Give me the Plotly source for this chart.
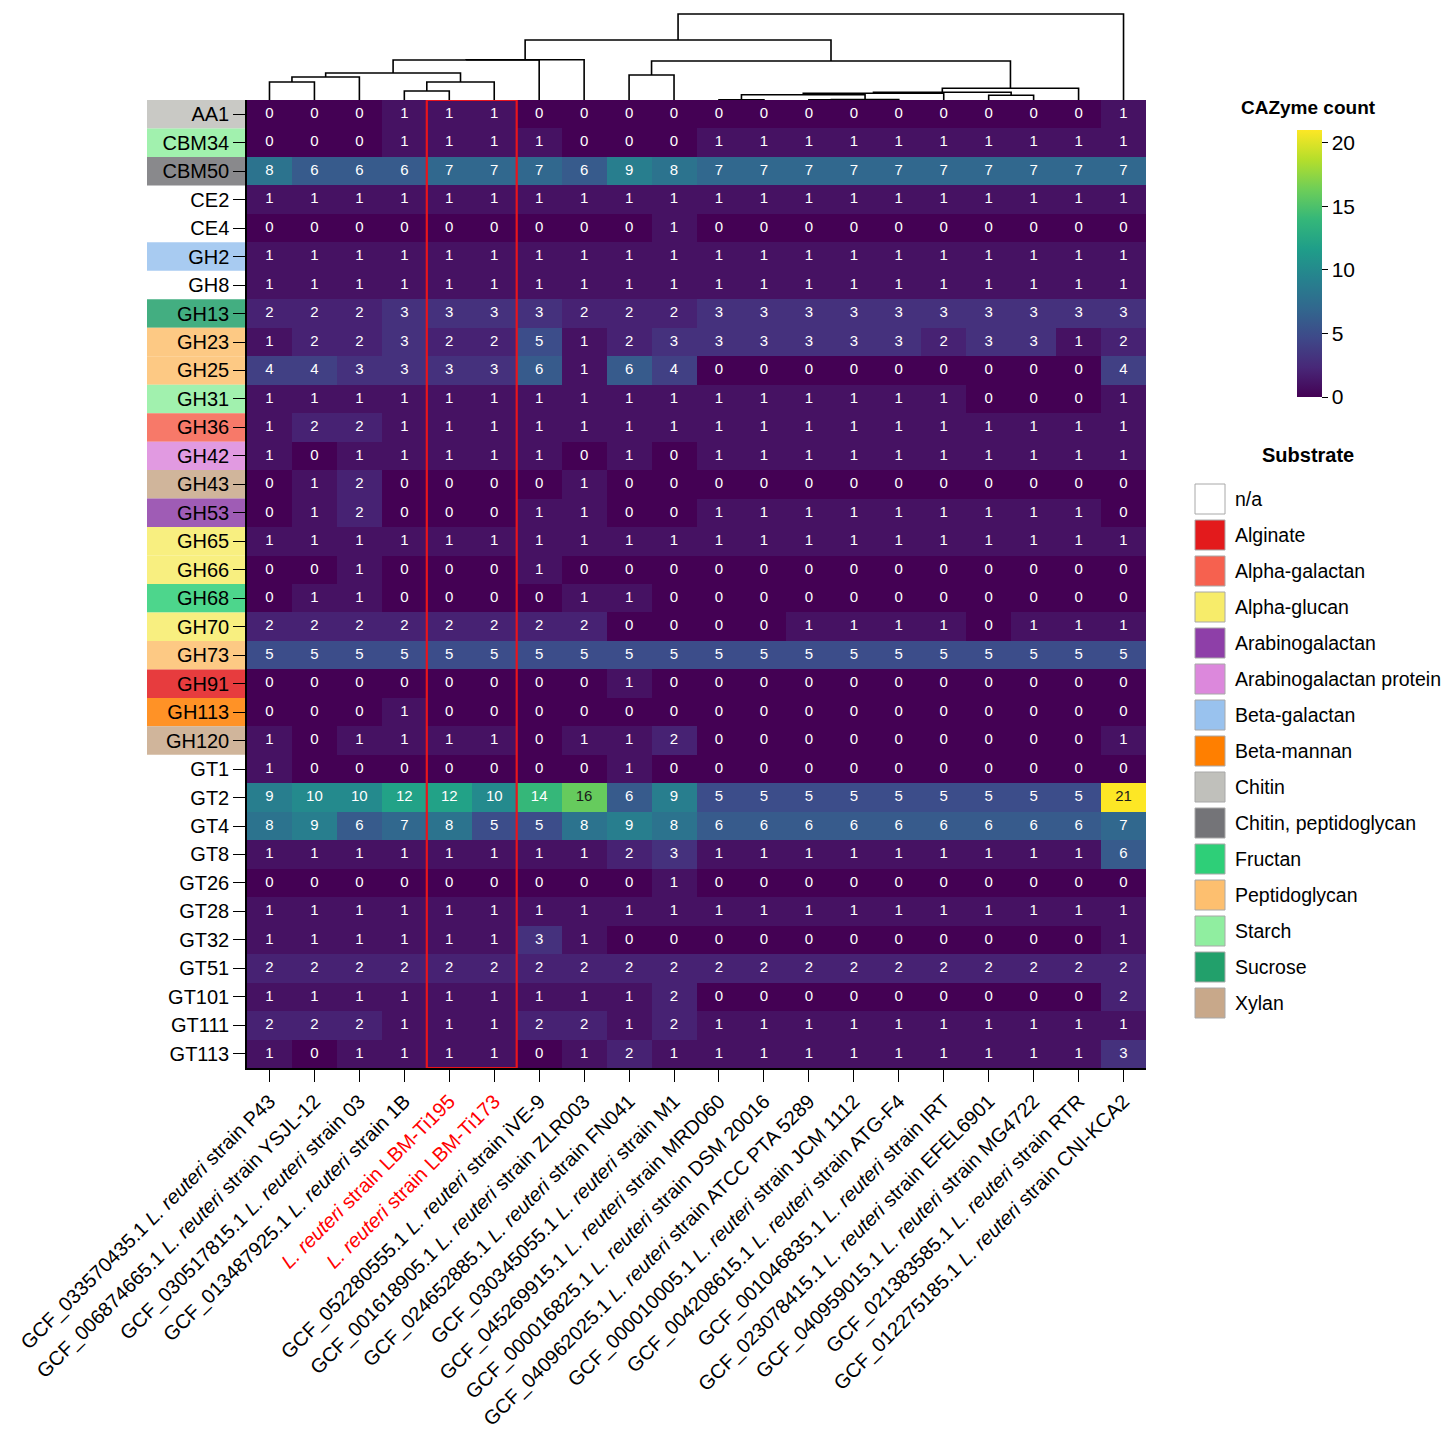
import plotly.graph_objects as go

# CAZyme families (rows, top to bottom)
families = ["AA1", "CBM34", "CBM50", "CE2", "CE4", "GH2", "GH8", "GH13", "GH23", "GH25",
            "GH31", "GH36", "GH42", "GH43", "GH53", "GH65", "GH66", "GH68", "GH70", "GH73",
            "GH91", "GH113", "GH120", "GT1", "GT2", "GT4", "GT8", "GT26", "GT28", "GT32",
            "GT51", "GT101", "GT111", "GT113"]

family_substrate = ["Chitin", "Starch", "Chitin, peptidoglycan", "n/a", "n/a", "Beta-galactan", "n/a",
                    "Sucrose", "Peptidoglycan", "Peptidoglycan", "Starch", "Alpha-galactan",
                    "Arabinogalactan protein", "Xylan", "Arabinogalactan", "Alpha-glucan", "Alpha-glucan",
                    "Fructan", "Alpha-glucan", "Peptidoglycan", "Alginate", "Beta-mannan", "Xylan",
                    "n/a", "n/a", "n/a", "n/a", "n/a", "n/a", "n/a", "n/a", "n/a", "n/a", "n/a"]

# genomes (columns, left to right, in dendrogram order)
accessions = ["GCF_033570435.1", "GCF_006874665.1", "GCF_030517815.1", "GCF_013487925.1", "", "",
              "GCF_052280555.1", "GCF_001618905.1", "GCF_024652885.1", "GCF_030345055.1",
              "GCF_045269915.1", "GCF_000016825.1", "GCF_040962025.1", "GCF_000010005.1",
              "GCF_004208615.1", "GCF_001046835.1", "GCF_023078415.1", "GCF_040959015.1",
              "GCF_021383585.1", "GCF_012275185.1"]
strains = ["P43", "YSJL-12", "03", "1B", "LBM-Ti195", "LBM-Ti173", "iVE-9", "ZLR003", "FN041", "M1",
           "MRD060", "DSM 20016", "ATCC PTA 5289", "JCM 1112", "ATG-F4", "IRT", "EFEL6901", "MG4722",
           "RTR", "CNI-KCA2"]
highlighted = ["LBM-Ti195", "LBM-Ti173"]

counts = [
    [0, 0, 0, 1, 1, 1, 0, 0, 0, 0, 0, 0, 0, 0, 0, 0, 0, 0, 0, 1],
    [0, 0, 0, 1, 1, 1, 1, 0, 0, 0, 1, 1, 1, 1, 1, 1, 1, 1, 1, 1],
    [8, 6, 6, 6, 7, 7, 7, 6, 9, 8, 7, 7, 7, 7, 7, 7, 7, 7, 7, 7],
    [1, 1, 1, 1, 1, 1, 1, 1, 1, 1, 1, 1, 1, 1, 1, 1, 1, 1, 1, 1],
    [0, 0, 0, 0, 0, 0, 0, 0, 0, 1, 0, 0, 0, 0, 0, 0, 0, 0, 0, 0],
    [1, 1, 1, 1, 1, 1, 1, 1, 1, 1, 1, 1, 1, 1, 1, 1, 1, 1, 1, 1],
    [1, 1, 1, 1, 1, 1, 1, 1, 1, 1, 1, 1, 1, 1, 1, 1, 1, 1, 1, 1],
    [2, 2, 2, 3, 3, 3, 3, 2, 2, 2, 3, 3, 3, 3, 3, 3, 3, 3, 3, 3],
    [1, 2, 2, 3, 2, 2, 5, 1, 2, 3, 3, 3, 3, 3, 3, 2, 3, 3, 1, 2],
    [4, 4, 3, 3, 3, 3, 6, 1, 6, 4, 0, 0, 0, 0, 0, 0, 0, 0, 0, 4],
    [1, 1, 1, 1, 1, 1, 1, 1, 1, 1, 1, 1, 1, 1, 1, 1, 0, 0, 0, 1],
    [1, 2, 2, 1, 1, 1, 1, 1, 1, 1, 1, 1, 1, 1, 1, 1, 1, 1, 1, 1],
    [1, 0, 1, 1, 1, 1, 1, 0, 1, 0, 1, 1, 1, 1, 1, 1, 1, 1, 1, 1],
    [0, 1, 2, 0, 0, 0, 0, 1, 0, 0, 0, 0, 0, 0, 0, 0, 0, 0, 0, 0],
    [0, 1, 2, 0, 0, 0, 1, 1, 0, 0, 1, 1, 1, 1, 1, 1, 1, 1, 1, 0],
    [1, 1, 1, 1, 1, 1, 1, 1, 1, 1, 1, 1, 1, 1, 1, 1, 1, 1, 1, 1],
    [0, 0, 1, 0, 0, 0, 1, 0, 0, 0, 0, 0, 0, 0, 0, 0, 0, 0, 0, 0],
    [0, 1, 1, 0, 0, 0, 0, 1, 1, 0, 0, 0, 0, 0, 0, 0, 0, 0, 0, 0],
    [2, 2, 2, 2, 2, 2, 2, 2, 0, 0, 0, 0, 1, 1, 1, 1, 0, 1, 1, 1],
    [5, 5, 5, 5, 5, 5, 5, 5, 5, 5, 5, 5, 5, 5, 5, 5, 5, 5, 5, 5],
    [0, 0, 0, 0, 0, 0, 0, 0, 1, 0, 0, 0, 0, 0, 0, 0, 0, 0, 0, 0],
    [0, 0, 0, 1, 0, 0, 0, 0, 0, 0, 0, 0, 0, 0, 0, 0, 0, 0, 0, 0],
    [1, 0, 1, 1, 1, 1, 0, 1, 1, 2, 0, 0, 0, 0, 0, 0, 0, 0, 0, 1],
    [1, 0, 0, 0, 0, 0, 0, 0, 1, 0, 0, 0, 0, 0, 0, 0, 0, 0, 0, 0],
    [9, 10, 10, 12, 12, 10, 14, 16, 6, 9, 5, 5, 5, 5, 5, 5, 5, 5, 5, 21],
    [8, 9, 6, 7, 8, 5, 5, 8, 9, 8, 6, 6, 6, 6, 6, 6, 6, 6, 6, 7],
    [1, 1, 1, 1, 1, 1, 1, 1, 2, 3, 1, 1, 1, 1, 1, 1, 1, 1, 1, 6],
    [0, 0, 0, 0, 0, 0, 0, 0, 0, 1, 0, 0, 0, 0, 0, 0, 0, 0, 0, 0],
    [1, 1, 1, 1, 1, 1, 1, 1, 1, 1, 1, 1, 1, 1, 1, 1, 1, 1, 1, 1],
    [1, 1, 1, 1, 1, 1, 3, 1, 0, 0, 0, 0, 0, 0, 0, 0, 0, 0, 0, 1],
    [2, 2, 2, 2, 2, 2, 2, 2, 2, 2, 2, 2, 2, 2, 2, 2, 2, 2, 2, 2],
    [1, 1, 1, 1, 1, 1, 1, 1, 1, 2, 0, 0, 0, 0, 0, 0, 0, 0, 0, 2],
    [2, 2, 2, 1, 1, 1, 2, 2, 1, 2, 1, 1, 1, 1, 1, 1, 1, 1, 1, 1],
    [1, 0, 1, 1, 1, 1, 0, 1, 2, 1, 1, 1, 1, 1, 1, 1, 1, 1, 1, 3],
]

# column dendrogram: (left node, right node, height); leaves are 0..19, merge k becomes node 20+k
dendro_links = [(0, 1, 18), (20, 2, 23), (3, 4, 9), (22, 5, 18), (21, 23, 27), (24, 6, 40),
                (25, 7, 40.3), (8, 9, 25), (10, 11, 0.2), (12, 13, 0.2), (29, 14, 0.4),
                (28, 30, 5.3), (31, 15, 6.7), (16, 17, 4.7), (32, 33, 7.7), (34, 18, 11.7),
                (27, 35, 39), (26, 36, 60), (37, 19, 86)]

substrates = ["n/a", "Alginate", "Alpha-galactan", "Alpha-glucan", "Arabinogalactan",
              "Arabinogalactan protein", "Beta-galactan", "Beta-mannan", "Chitin",
              "Chitin, peptidoglycan", "Fructan", "Peptidoglycan", "Starch", "Sucrose", "Xylan"]
substrate_colors = ["#ffffff", "#e31a1c", "#f6614f", "#f7ec6a", "#8e3fa8", "#dc88dc", "#99c2ee",
                    "#ff7f00", "#c0c0bb", "#747478", "#2ecf78", "#fdbf6f", "#90eea0", "#22a06b",
                    "#c8a88a"]
color_of = dict(zip(substrates, substrate_colors))

FONT = "Arial, Liberation Sans, sans-serif"
# the page body keeps its 8px margin, so the figure is a bit smaller than the window
PAD = 8
W, H = 1449 - 2 * PAD, 1443 - 2 * PAD

def px_x(p):
    return (p - PAD) / W

def px_y(p):
    return 1 - (p - PAD) / H

n_rows = len(families)
n_cols = len(strains)

# x tick labels
xlabels = []
for a, s in zip(accessions, strains):
    if s in highlighted:
        xlabels.append("<span style='color:red'><i>L. reuteri</i> strain %s</span>" % s)
    else:
        xlabels.append("%s <i>L. reuteri</i> strain %s" % (a, s))

fig = go.Figure()

fig.add_trace(go.Heatmap(
    z=counts,
    x=list(range(n_cols)),
    y=list(range(n_rows)),
    colorscale="Viridis",
    zmin=0, zmax=21,
    hoverinfo="skip",
    colorbar=dict(
        x=px_x(1297), xanchor="left", xpad=0,
        y=px_y(263.5), yanchor="middle", ypad=0,
        len=267, lenmode="pixels",
        thickness=25, thicknessmode="pixels",
        outlinewidth=0,
        ticks="outside", ticklen=6, tickwidth=1.2, tickcolor="black",
        tickvals=[0, 5, 10, 15, 20],
        tickfont=dict(size=21, family=FONT, color="black"),
    ),
))

# cell numbers
tx, ty, tt, tc = [], [], [], []
for i, row in enumerate(counts):
    for j, v in enumerate(row):
        tx.append(j)
        ty.append(i)
        tt.append(str(v))
        tc.append("#1a1a1a" if v >= 15 else "white")
fig.add_trace(go.Scatter(
    x=tx, y=ty, text=tt, mode="text",
    textfont=dict(size=15, color=tc, family=FONT),
    hoverinfo="skip", showlegend=False,
))

# dendrogram
pos = {k: (float(k), 0.0) for k in range(n_cols)}
lx, ly = [], []
for k, (a, b, h) in enumerate(dendro_links):
    xa, ha = pos[a]
    xb, hb = pos[b]
    lx += [xa, xa, xb, xb, None]
    ly += [ha, h, h, hb, None]
    pos[n_cols + k] = ((xa + xb) / 2, h)
fig.add_trace(go.Scatter(
    x=lx, y=ly, mode="lines", yaxis="y2",
    line=dict(color="black", width=1.6),
    hoverinfo="skip", showlegend=False,
))

shapes = []
# substrate boxes behind the row labels
for i, s in enumerate(family_substrate):
    if s == "n/a":
        continue
    shapes.append(dict(
        type="rect", xref="paper", yref="y", layer="below",
        x0=px_x(147), x1=px_x(247), y0=i - 0.5, y1=i + 0.5,
        fillcolor=color_of[s], opacity=0.85, line=dict(width=0),
    ))

# highlight box around the two new strains
hl = [j for j, s in enumerate(strains) if s in highlighted]
shapes.append(dict(
    type="rect", xref="x", yref="y", layer="above",
    x0=min(hl) - 0.5, x1=max(hl) + 0.5, y0=-0.5, y1=n_rows - 0.5,
    line=dict(color="#e8141c", width=2.2), fillcolor="rgba(0,0,0,0)",
))

# substrate legend
annotations = []
for k, s in enumerate(substrates):
    yc = 499 + 36 * k
    shapes.append(dict(
        type="rect", xref="paper", yref="paper",
        x0=px_x(1195), x1=px_x(1225), y0=px_y(yc + 15), y1=px_y(yc - 15),
        fillcolor=color_of[s], line=dict(color="#a8a8a8", width=1),
    ))
    annotations.append(dict(
        x=px_x(1233), y=px_y(yc), xref="paper", yref="paper",
        text=s, showarrow=False, xanchor="left", yanchor="middle",
        font=dict(size=19.5, family=FONT, color="black"),
    ))

annotations.append(dict(
    x=px_x(1308), y=px_y(108), xref="paper", yref="paper",
    text="<b>CAZyme count</b>", showarrow=False, xanchor="center", yanchor="middle",
    font=dict(size=19, family=FONT, color="black"),
))
annotations.append(dict(
    x=px_x(1308), y=px_y(455), xref="paper", yref="paper",
    text="<b>Substrate</b>", showarrow=False, xanchor="center", yanchor="middle",
    font=dict(size=20, family=FONT, color="black"),
))

fig.update_layout(
    width=W, height=H,
    margin=dict(l=0, r=0, t=0, b=0, autoexpand=False),
    paper_bgcolor="white",
    plot_bgcolor="white",
    font=dict(family=FONT, color="black"),
    showlegend=False,
    shapes=shapes,
    annotations=annotations,
    xaxis=dict(
        domain=[px_x(247), px_x(1146)],
        range=[-0.5, n_cols - 0.5],
        tickmode="array", tickvals=list(range(n_cols)), ticktext=xlabels,
        tickangle=-45, ticks="outside", ticklen=12, tickwidth=1.4, tickcolor="black",
        tickfont=dict(size=20, family=FONT, color="black"),
        showline=True, linecolor="black", linewidth=1.5,
        showgrid=False, zeroline=False, anchor="y", automargin=False,
    ),
    yaxis=dict(
        domain=[px_y(1068), px_y(100)],
        range=[n_rows - 0.5, -0.5],
        tickmode="array", tickvals=list(range(n_rows)), ticktext=families,
        ticks="outside", ticklen=12, tickwidth=1.4, tickcolor="black",
        tickfont=dict(size=20, family=FONT, color="black"),
        showline=True, linecolor="black", linewidth=1.5,
        showgrid=False, zeroline=False, anchor="x", automargin=False,
    ),
    yaxis2=dict(
        domain=[px_y(100), px_y(12)],
        range=[0, 88],
        anchor="x", visible=False, showgrid=False, zeroline=False, automargin=False,
    ),
)

fig.write_html("out.html")
